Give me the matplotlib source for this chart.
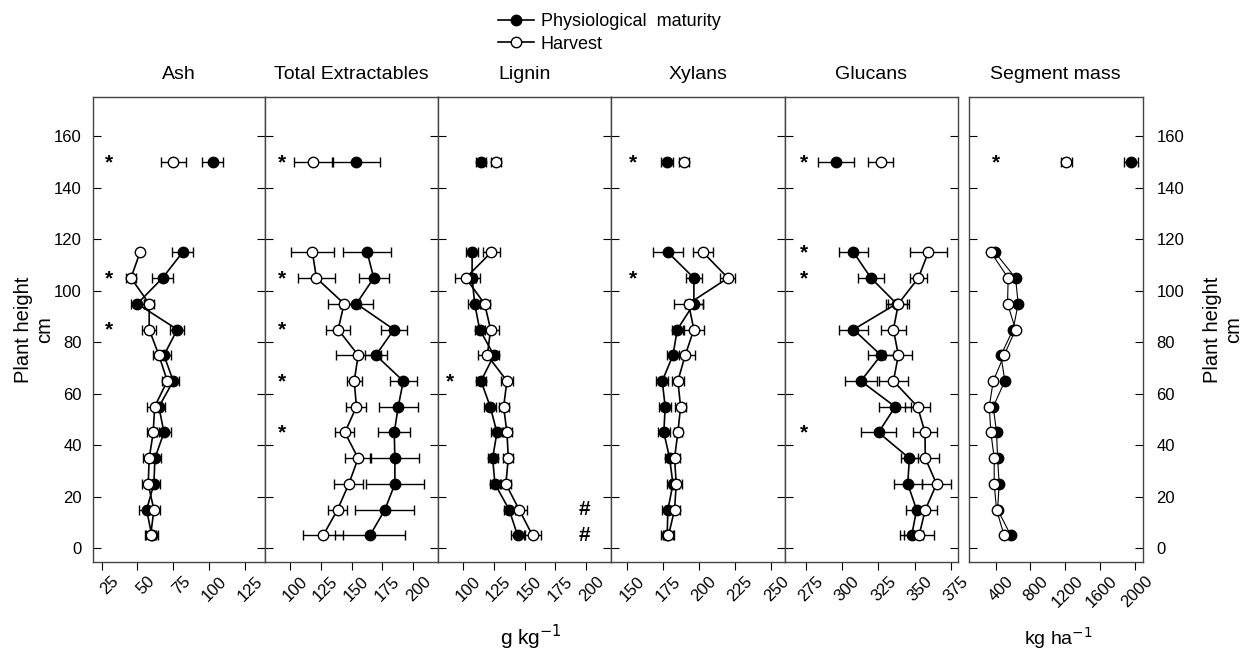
import matplotlib.pyplot as plt
import matplotlib.transforms as mtransforms
import numpy as np

plt.rcParams['font.family'] = ['Liberation Sans', 'DejaVu Sans']

# Plant height of each segment (cm); the last one is the whole-plant value at 150
heights = [5, 15, 25, 35, 45, 55, 65, 75, 85, 95, 105, 115, 150]

titles = ["Ash", "Total Extractables", "Lignin", "Xylans", "Glucans", "Segment mass"]

# Physiological maturity (filled) and Harvest (open), mean and error
ash_pm = [60, 56.4, 61.5, 62.2, 68.5, 65, 75, 68.5, 77.8, 49.9, 67.5, 81.5, 102.5]
ash_pm_err = [4, 5, 4, 4, 5, 4, 4, 4.7, 4.9, 4.7, 7.2, 7.6, 7.3]
ash_hv = [59.2, 61.5, 57.5, 58.2, 61, 62, 70.8, 65, 58.2, 58.2, 45.5, 51.8, 75]
ash_hv_err = [4, 4.5, 4, 4, 4, 5, 4, 4, 5.1, 3.5, 3.8, 0, 8.7]

ext_pm = [164.9, 177, 185.1, 185.1, 184.6, 187.8, 191.9, 169.7, 184.3, 154, 168, 162.7, 154]
ext_pm_err = [28, 23.8, 23.2, 19.9, 13.1, 15.9, 10.8, 8.9, 10.8, 13.1, 12.2, 19.6, 18.8]
ext_hv = [127, 138.7, 147.8, 155.4, 144.6, 154, 152.2, 155.4, 139.2, 144, 121.6, 118.4, 119]
ext_hv_err = [16.5, 7.4, 11.7, 10.3, 7.8, 8.1, 6.2, 18.2, 9.7, 12.8, 14.9, 17.3, 15.3]

lig_pm = [144.4, 137.6, 126.1, 124.2, 127.7, 122.3, 114.8, 125.3, 113.7, 109.7, 107.6, 107.6, 114.8]
lig_pm_err = [5.6, 4.4, 4, 4, 4.7, 4.7, 4.4, 4, 4, 5.4, 6, 4.7, 3.8]
lig_hv = [156.5, 145.7, 134.9, 136.9, 135.8, 133.1, 135.8, 119.9, 122.6, 117.7, 102.4, 123.1, 126.9]
lig_hv_err = [7, 6.3, 4, 4, 4, 4, 4.7, 7.4, 6.5, 4, 8.5, 7, 3.8]

xyl_pm = [177.9, 178.4, 181.9, 179.6, 175.6, 176.5, 174.5, 181.9, 184.9, 196.4, 196.4, 178.4, 177.9]
xyl_pm_err = [4, 4, 4, 3, 4, 4, 4, 4.3, 4, 6, 5.8, 10.2, 4]
xyl_hv = [178.8, 183, 184.2, 183, 185.3, 187.2, 185.3, 190.4, 196.4, 192.7, 220, 202.7, 189.5]
xyl_hv_err = [4, 4, 4, 4, 3, 4, 4, 7, 7, 10, 5.2, 6.6, 3.5]

glu_pm = [348, 351.4, 345.3, 346.4, 325.1, 336.6, 312.9, 326.8, 307.8, 337.6, 319.9, 307.8, 295.6]
glu_pm_err = [8, 7.6, 9.7, 6, 12.4, 11.1, 11.1, 9.3, 9.9, 7, 9.2, 9.9, 12.6]
glu_hv = [353.1, 357.4, 365.2, 357.4, 357.2, 352.1, 335.4, 338.8, 335.4, 338.8, 352.6, 359.5, 326.6]
glu_hv_err = [10.3, 8, 10.3, 9.7, 8, 8.4, 10.3, 9.4, 8.5, 7.1, 6.1, 13, 8.8]

seg_pm = [575, 423, 441, 423, 411, 373, 506, 461, 601, 659, 629, 392, 1954]
seg_pm_err = [0, 0, 0, 0, 0, 0, 0, 0, 0, 0, 0, 0, 80]
seg_hv = [498, 411, 384, 384, 346, 327, 373, 498, 629, 537, 544, 346, 1211]
seg_hv_err = [0, 0, 0, 0, 0, 0, 0, 0, 0, 0, 0, 0, 65]

# significance marks: heights with '*' per panel
stars = [[150, 105, 85], [150, 105, 85, 65, 45], [65], [150, 105], [150, 115, 105, 45], [150]]
hashes = [15, 5]  # lignin panel

xticks = [[25, 50, 75, 100, 125], [100, 125, 150, 175, 200], [100, 125, 150, 175, 200],
          [150, 175, 200, 225, 250], [275, 300, 325, 350, 375], [400, 800, 1200, 1600, 2000]]
xlims = [(19, 139), (80, 220), (80, 220), (139, 259.5), (260.5, 380), (95, 2085)]


def main() -> None:
    W, H = 1242, 655
    fig = plt.figure(figsize=(W / 100, H / 100), dpi=100)

    edges = [(93, 265), (265, 438), (438, 611), (611, 785), (785, 958), (969, 1142.5)]
    top, bot = 97, 562
    star_x = [0.093, 0.098, 0.069, 0.126, 0.11, 0.154]

    data = [(ash_pm, ash_pm_err, ash_hv, ash_hv_err),
            (ext_pm, ext_pm_err, ext_hv, ext_hv_err),
            (lig_pm, lig_pm_err, lig_hv, lig_hv_err),
            (xyl_pm, xyl_pm_err, xyl_hv, xyl_hv_err),
            (glu_pm, glu_pm_err, glu_hv, glu_hv_err),
            (seg_pm, seg_pm_err, seg_hv, seg_hv_err)]

    # rotated tick labels sit to the right of and below their ticks
    shift = mtransforms.ScaledTranslation(15 / 100, -17 / 100, fig.dpi_scale_trans)

    h = np.array(heights)
    for i, (x0, x1) in enumerate(edges):
        ax = fig.add_axes([x0 / W, 1 - bot / H, (x1 - x0) / W, (bot - top) / H])
        pm, pme, hv, hve = [np.array(a, dtype=float) for a in data[i]]
        lw = 0.8 if i == 5 else 1.2

        # filled series
        m = pme > 0
        ax.errorbar(pm[m], h[m], xerr=pme[m], fmt='none', ecolor='k', elinewidth=1,
                    capsize=3.6, capthick=1, zorder=2)
        ax.plot(pm[:12], h[:12], '-', color='k', lw=lw, zorder=3)
        ax.plot(pm, h, 'o', color='k', mfc='k', mec='k', ms=7.5, zorder=4)

        # open series
        m = hve > 0
        ax.errorbar(hv[m], h[m], xerr=hve[m], fmt='none', ecolor='k', elinewidth=1,
                    capsize=3.6, capthick=1, zorder=5)
        ax.plot(hv[:12], h[:12], '-', color='k', lw=lw, zorder=6)
        ax.plot(hv, h, 'o', mfc='white', mec='k', mew=1, ms=7.5, zorder=7)

        ax.set_xlim(*xlims[i])
        ax.set_ylim(-5.3, 175.3)
        ax.set_xticks(xticks[i])
        ax.tick_params(axis='x', direction='out', length=6, width=0.8, labelbottom=False)
        xtrans = ax.get_xaxis_transform() + shift
        for t in xticks[i]:
            ax.text(t, 0, str(t), transform=xtrans, rotation=45, ha='right',
                    va='center', rotation_mode='anchor', fontsize=12, clip_on=False)

        ax.set_yticks(range(0, 161, 20))
        ax.tick_params(axis='y', direction='in', left=True, right=True, length=6,
                       labelleft=(i == 0), labelright=(i == 5), labelsize=12)
        if i == 0:
            ax.tick_params(axis='y', pad=8)
        if i == 5:
            ax.tick_params(axis='y', pad=10)
        for s in ax.spines.values():
            s.set_color('#444444')
            s.set_linewidth(1)
        ax.set_title(titles[i], fontsize=14, pad=13)

        trans = ax.get_yaxis_transform()
        for yy in stars[i]:
            ax.text(star_x[i], yy - 0.3, '*', transform=trans, fontsize=15,
                    fontweight='bold', ha='center', va='center')
        if i == 2:
            for yy in hashes:
                ax.text(0.845, yy, '#', transform=trans, fontsize=15,
                        fontweight='bold', ha='center', va='center')

    fig.text(34 / W, 1 - 330 / H, "Plant height\ncm", rotation=90, ha='center',
             va='center', multialignment='center', fontsize=14.5, linespacing=1.1)
    fig.text(1223 / W, 1 - 330 / H, "Plant height\ncm", rotation=90, ha='center',
             va='center', multialignment='center', fontsize=14.5, linespacing=1.1)

    fig.text(531 / W, 1 - 637 / H, "g kg$^{-1}$", ha='center', va='center', fontsize=15)
    fig.text(1058 / W, 1 - 638 / H, "kg ha$^{-1}$", ha='center', va='center', fontsize=14)

    # legend
    h1, = plt.plot([], [], '-o', color='k', mfc='k', ms=7.5, lw=1.2)
    h2, = plt.plot([], [], '-o', color='k', mfc='white', ms=7.5, lw=1.2)
    fig.legend([h1, h2], ["Physiological  maturity", "Harvest"], loc='upper left',
               bbox_to_anchor=(482 / W, 1 + 3 / H), frameon=False, fontsize=13,
               handlelength=2.0, handletextpad=0.35, labelspacing=0.3)

    fig.savefig("out.png", dpi=100)


if __name__ == '__main__':
    main()
